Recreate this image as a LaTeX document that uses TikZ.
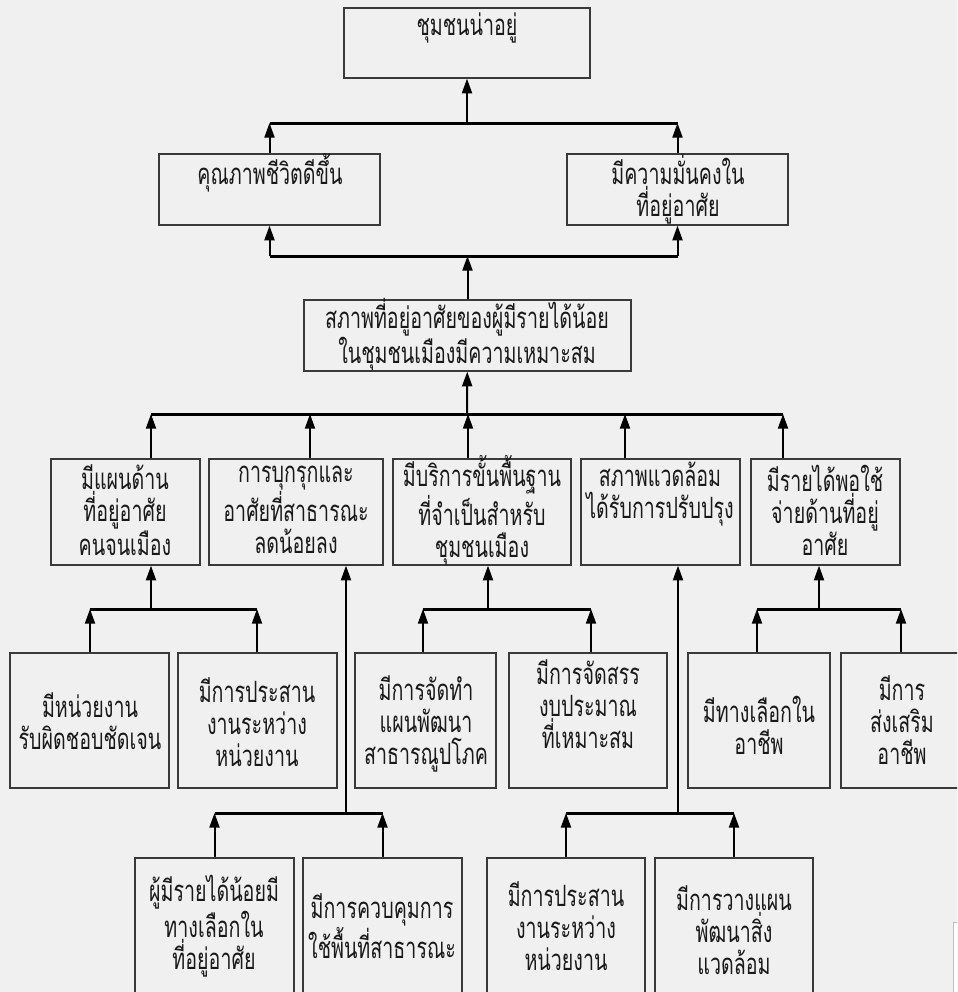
\documentclass[tikz,border=0pt]{standalone}
\usepackage{fontspec}
\newfontfamily\thaifont[Script=Thai,FakeStretch=0.67]{Loma}
\usetikzlibrary{arrows.meta,positioning,fit}
\definecolor{bg}{HTML}{F0F0F0}
\definecolor{edge}{HTML}{3A3A3A}
\tikzset{
  box/.style={draw=edge,line width=1pt,inner sep=0pt},
  lbl/.style={font=\thaifont\fontsize{22}{24}\selectfont,align=center,inner sep=0pt,text=black!90},
  arr/.style={line width=1.5pt,-{Triangle[length=11pt,width=7.5pt]}},
  bar/.style={line width=2.25pt},
}

\begin{document}
\begin{tikzpicture}[x=0.75pt,y=-0.75pt]
  \fill[bg] (0,0) rectangle (957,992);
  \useasboundingbox (0,0) rectangle (957,992);
  \clip (0,0) rectangle (957,992);
  % boxes
  \foreach \n/\xa/\ya/\xb/\yb in {top/344/8/590/78, ql/159/154/380/225, qr/567/154/788/225,
      mid/304/300/631/371,
      a/51/459/200/565, b/209/459/383/565, c/393/459/571/565, d/581/459/740/565, e/751/459/900/565,
      aa/10/653/169/788, ab/178/653/337/788, ca/355/653/496/788, cb/509/653/667/788,
      ea/688/653/830/788, eb/841/653/963/788,
      ba/135/858/294/1010, bb/303/858/462/1010, da/487/858/645/1010, db/655/858/813/1010} {
    \node[box,fit={(\xa,\ya) (\xb,\yb)}] (\n) {};
  }
  % texts
  \node[lbl] (ttop) at (467,28) {ชุมชนน่าอยู่};
  \node[lbl] (tql) at (270,173) {คุณภาพชีวิตดีขึ้น};
  \node[lbl] (tqr) at (678,189) {มีความมั่นคงใน\\ที่อยู่อาศัย};
  \node[lbl] (tmid) at (467,335) {สภาพที่อยู่อาศัยของผู้มีรายได้น้อย\\ในชุมชนเมืองมีความเหมาะสม};
  \node[lbl] (ta) at (125,510) {มีแผนด้าน\\ที่อยู่อาศัย\\คนจนเมือง};
  \node[lbl] (tb) at (296,510) {การบุกรุกและ\\อาศัยที่สาธารณะ\\ลดน้อยลง};
  \node[lbl] (tc) at (482,510) {มีบริการขั้นพื้นฐาน\\ที่จำเป็นสำหรับ\\ชุมชนเมือง};
  \node[lbl] (td) at (660,494) {สภาพแวดล้อม\\ได้รับการปรับปรุง};
  \node[lbl] (te) at (825,510) {มีรายได้พอใช้\\จ่ายด้านที่อยู่\\อาศัย};
  \node[lbl] (taa) at (90,721) {มีหน่วยงาน\\รับผิดชอบชัดเจน};
  \node[lbl] (tab) at (257,722) {มีการประสาน\\งานระหว่าง\\หน่วยงาน};
  \node[lbl] (tca) at (426,724) {มีการจัดทำ\\แผนพัฒนา\\สาธารณูปโภค};
  \node[lbl] (tcb) at (588,704) {มีการจัดสรร\\งบประมาณ\\ที่เหมาะสม};
  \node[lbl] (tea) at (759,725) {มีทางเลือกใน\\อาชีพ};
  \node[lbl] (teb) at (902,720) {มีการ\\ส่งเสริม\\อาชีพ};
  \node[lbl] (tba) at (214,926) {ผู้มีรายได้น้อยมี\\ทางเลือกใน\\ที่อยู่อาศัย};
  \node[lbl] (tbb) at (382,926) {มีการควบคุมการ\\ใช้พื้นที่สาธารณะ};
  \node[lbl] (tda) at (566,926) {มีการประสาน\\งานระหว่าง\\หน่วยงาน};
  \node[lbl] (tdb) at (734,930) {มีการวางแผน\\พัฒนาสิ่ง\\แวดล้อม};
  % junctions
  \coordinate (j1) at (467,123);
  \coordinate (j2) at (467,256);
  \coordinate (j3) at (467,414);
  \coordinate (ja) at (151,609);
  \coordinate (jc) at (488,609);
  \coordinate (je) at (819,609);
  \coordinate (jb) at (346,813);
  \coordinate (jd) at (678,813);
  % level 1-2
  \draw[bar] (ql.north |- j1) -- (qr.north |- j1);
  \draw[arr] (j1) -- (top);
  \draw[arr] (ql) -- (ql.north |- j1);
  \draw[arr] (qr) -- (qr.north |- j1);
  \draw[bar] (ql.south |- j2) -- (qr.south |- j2);
  \draw[arr] (mid) -- (mid.north |- j2);
  \draw[arr] (ql.south |- j2) -- (ql);
  \draw[arr] (qr.south |- j2) -- (qr);
  % level 3
  \draw[arr] (j3) -- (mid);
  \draw[bar] (151,414) -- (783,414);
  \foreach \n/\x in {a/151, b/310, c/468, d/625, e/783}
    \draw[arr] (\n.north -| \x,0) -- (\x,414);
  % level 4
  \foreach \l/\r in {90/257, 423/591, 757/901}
    \draw[bar] (\l,609) -- (\r,609);
  \draw[arr] (ja) -- (a.south -| ja);
  \draw[arr] (jc) -- (c.south -| jc);
  \draw[arr] (je) -- (e.south -| je);
  \foreach \n/\x in {aa/90, ab/257, ca/423, cb/591, ea/757, eb/901}
    \draw[arr] (\n.north -| \x,0) -- (\x,609);
  % level 5
  \draw[bar] (ba.north |- jb) -- (bb.north |- jb);
  \draw[bar] (da.north |- jd) -- (db.north |- jd);
  \draw[arr] (jb) -- (b.south -| jb);
  \draw[arr] (jd) -- (d.south -| jd);
  \foreach \n in {ba, bb, da, db}
    \draw[arr] (\n.north) -- (\n.north |- jb);
  \draw[draw=black!25,fill=white] (953,922) rectangle (970,1000);
\end{tikzpicture}
\end{document}
